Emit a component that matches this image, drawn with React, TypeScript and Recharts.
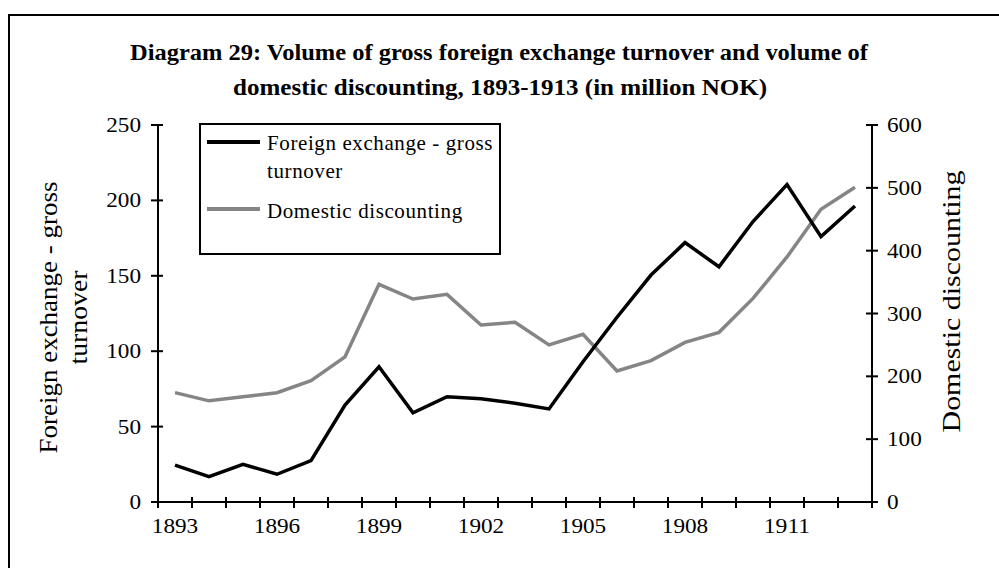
import { LineChart, Line, XAxis, YAxis, Legend, Label } from "recharts";

const years = [
  "1893", "1894", "1895", "1896", "1897", "1898", "1899", "1900", "1901", "1902", "1903",
  "1904", "1905", "1906", "1907", "1908", "1909", "1910", "1911", "1912", "1913",
];
// left axis, million NOK
const foreignExchange = [
  24.5, 16.8, 25, 18.4, 27.4, 64.3, 89.7, 59.2, 69.8, 68.5, 65.5,
  61.7, 93, 122.5, 150.5, 172, 156, 186, 210.5, 176, 196.3,
];
// right axis, million NOK
const domesticDiscounting = [
  174, 161, 167.6, 174, 193, 231, 346.5, 323, 330.5, 281.7, 286,
  250, 267, 208.5, 225, 254, 270, 324, 390, 466, 501,
];
const leftTicks = [0, 50, 100, 150, 200, 250];
const rightTicks = [0, 100, 200, 300, 400, 500, 600];
const yearLabels = ["1893", "1896", "1899", "1902", "1905", "1908", "1911"];

const seriesNames = ["Foreign exchange - gross turnover", "Domestic discounting"];
const seriesColors = ["#000000", "#858585"];

const data = years.map((year, i) => ({
  year,
  fx: foreignExchange[i],
  dd: domesticDiscounting[i],
}));

const FONT = '"Liberation Serif", "Times New Roman", serif';
const HALF_BAND = 17;
const DIGIT_W = 11.6; // tick numbers are a bit stretched in the original

function XTick(props: any) {
  const { x, y, payload, index } = props;
  const label = String(payload.value);
  return (
    <g>
      <line x1={x - HALF_BAND} x2={x - HALF_BAND} y1={y - 5} y2={y + 6} stroke="#000" strokeWidth={2} />
      {index === years.length - 1 && (
        <line x1={x + HALF_BAND} x2={x + HALF_BAND} y1={y - 5} y2={y + 6} stroke="#000" strokeWidth={2} />
      )}
      {yearLabels.includes(label) && (
        <text
          x={x}
          y={y + 31}
          textAnchor="middle"
          fontFamily={FONT}
          fontSize={21}
          fill="#000"
          textLength={DIGIT_W * label.length}
          lengthAdjust="spacingAndGlyphs"
        >
          {label}
        </text>
      )}
    </g>
  );
}

function LeftTick(props: any) {
  const { x, y, payload } = props;
  const label = String(payload.value);
  return (
    <g>
      <line x1={x - 7} x2={x + 5} y1={y} y2={y} stroke="#000" strokeWidth={2} />
      <text
        x={x - 17}
        y={y + 7}
        textAnchor="end"
        fontFamily={FONT}
        fontSize={21}
        fill="#000"
        textLength={DIGIT_W * label.length}
        lengthAdjust="spacingAndGlyphs"
      >
        {label}
      </text>
    </g>
  );
}

function RightTick(props: any) {
  const { x, y, payload } = props;
  const label = String(payload.value);
  return (
    <g>
      <line x1={x - 6} x2={x + 6} y1={y} y2={y} stroke="#000" strokeWidth={2} />
      <text
        x={x + 15}
        y={y + 7}
        textAnchor="start"
        fontFamily={FONT}
        fontSize={21}
        fill="#000"
        textLength={DIGIT_W * label.length}
        lengthAdjust="spacingAndGlyphs"
      >
        {label}
      </text>
    </g>
  );
}

function LeftTitle(props: any) {
  const { x, y, height } = props.viewBox;
  const cy = y + height / 2 + 4;
  const x1 = x + 48;
  const x2 = x + 78;
  return (
    <g fontFamily={FONT} fontSize={26} fill="#000">
      <text
        x={x1}
        y={cy}
        textAnchor="middle"
        dominantBaseline="central"
        transform={`rotate(-90, ${x1}, ${cy})`}
        textLength={272}
        lengthAdjust="spacingAndGlyphs"
      >
        Foreign exchange - gross
      </text>
      <text
        x={x2}
        y={cy}
        textAnchor="middle"
        dominantBaseline="central"
        transform={`rotate(-90, ${x2}, ${cy})`}
        textLength={94}
        lengthAdjust="spacingAndGlyphs"
      >
        turnover
      </text>
    </g>
  );
}

function RightTitle(props: any) {
  const { x, y, height } = props.viewBox;
  const cy = y + height / 2 - 12;
  const cx = x + 79;
  return (
    <text
      x={cx}
      y={cy}
      textAnchor="middle"
      dominantBaseline="central"
      transform={`rotate(-90, ${cx}, ${cy})`}
      fontFamily={FONT}
      fontSize={26}
      fill="#000"
      textLength={262}
      lengthAdjust="spacingAndGlyphs"
    >
      Domestic discounting
    </text>
  );
}

function LegendBox() {
  return (
    <div
      style={{
        position: "relative",
        width: 302,
        height: 132,
        border: "2px solid #000",
        boxSizing: "border-box",
        background: "#fff",
        fontFamily: FONT,
        fontSize: 21,
        lineHeight: "28px",
        color: "#000",
        textAlign: "left",
      }}
    >
      {seriesNames.map((name, i) => (
        <div key={name}>
          <div
            style={{
              position: "absolute",
              left: 6,
              top: i === 0 ? 15 : 82,
              width: 53,
              height: 4,
              background: seriesColors[i],
            }}
          />
          <div
            style={{
              position: "absolute",
              left: 66,
              top: i === 0 ? 4 : 72,
              width: 232,
              letterSpacing: 0.6,
            }}
          >
            {name}
          </div>
        </div>
      ))}
    </div>
  );
}

export default function App() {
  return (
    <div
      style={{
        position: "absolute",
        left: 0,
        top: 0,
        width: 999,
        height: 568,
        overflow: "hidden",
        background: "#fff",
      }}
    >
      <div
        style={{
          position: "absolute",
          left: 8,
          top: 14,
          width: 1100,
          height: 700,
          border: "2px solid #000",
          boxSizing: "border-box",
        }}
      />
      <svg width={999} height={120} style={{ position: "absolute", left: 0, top: 0 }}>
        <g fontFamily={FONT} fontSize={24} fontWeight="bold" fill="#000">
          <text x={499} y={60} textAnchor="middle" textLength={738} lengthAdjust="spacingAndGlyphs">
            Diagram 29: Volume of gross foreign exchange turnover and volume of
          </text>
          <text x={500} y={95} textAnchor="middle" textLength={534} lengthAdjust="spacingAndGlyphs">
            domestic discounting, 1893-1913 (in million NOK)
          </text>
        </g>
      </svg>
      <div style={{ position: "absolute", left: 0, top: 0 }}>
        <LineChart width={999} height={568} data={data} margin={{ top: 125, right: 0, bottom: 0, left: 0 }}>
          <XAxis
            dataKey="year"
            scale="band"
            interval={0}
            height={66}
            tickSize={0}
            tickMargin={0}
            tickLine={false}
            axisLine={{ stroke: "#000", strokeWidth: 2 }}
            tick={<XTick />}
          />
          <YAxis
            yAxisId="left"
            orientation="left"
            width={158}
            domain={[0, 250]}
            ticks={leftTicks}
            tickSize={0}
            tickMargin={0}
            tickLine={false}
            axisLine={{ stroke: "#000", strokeWidth: 2 }}
            tick={<LeftTick />}
          >
            <Label content={<LeftTitle />} />
          </YAxis>
          <YAxis
            yAxisId="right"
            orientation="right"
            width={127}
            domain={[0, 600]}
            ticks={rightTicks}
            tickSize={0}
            tickMargin={0}
            tickLine={false}
            axisLine={{ stroke: "#000", strokeWidth: 2 }}
            tick={<RightTick />}
          >
            <Label content={<RightTitle />} />
          </YAxis>
          <Legend
            layout="vertical"
            align="center"
            verticalAlign="middle"
            wrapperStyle={{ position: "absolute", left: 199, top: 123, width: 302, height: 132 }}
            content={<LegendBox />}
          />
          <Line
            yAxisId="right"
            dataKey="dd"
            name={seriesNames[1]}
            stroke={seriesColors[1]}
            strokeWidth={3.5}
            dot={false}
            isAnimationActive={false}
          />
          <Line
            yAxisId="left"
            dataKey="fx"
            name={seriesNames[0]}
            stroke={seriesColors[0]}
            strokeWidth={3.5}
            dot={false}
            isAnimationActive={false}
          />
        </LineChart>
      </div>
    </div>
  );
}
